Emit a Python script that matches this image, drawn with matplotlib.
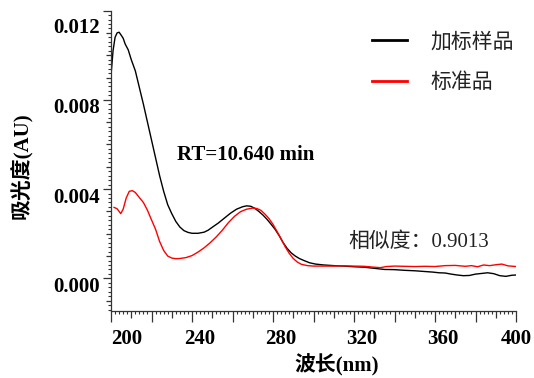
import matplotlib
matplotlib.use('Agg')
import matplotlib.pyplot as plt
import matplotlib.transforms as mtransforms
import numpy as np

# wavelength (nm) / absorbance (AU)
spiked_nm = [200, 201, 202, 203, 204, 205, 206, 207, 208.5, 210, 212, 214, 216, 218, 220,
             222, 224, 226, 228, 230, 232, 234, 236, 238, 240, 243, 246, 248, 250, 253,
             256, 259, 262, 265, 267, 269, 271, 273, 275, 277, 279, 281, 283, 285, 287,
             289, 291, 293, 295, 298, 301, 305, 310, 315, 320, 325, 330, 335, 340, 345,
             350, 353, 356, 359, 362, 365, 368, 371, 374, 377, 380, 383, 386, 389, 392,
             395, 398, 400]
spiked_au = [0.0091, 0.0102, 0.0108, 0.0110, 0.01103, 0.0109, 0.01076, 0.0105, 0.01024,
             0.0098, 0.0093, 0.00855, 0.0078, 0.0070, 0.0062, 0.0054, 0.0046, 0.0039,
             0.0033, 0.0029, 0.00255, 0.0023, 0.00214, 0.00206, 0.00202, 0.00202, 0.00207,
             0.00216, 0.00229, 0.00248, 0.00270, 0.00292, 0.00310, 0.00321, 0.00325,
             0.00323, 0.00314, 0.00300, 0.00284, 0.00265, 0.00243, 0.00220, 0.00192,
             0.00160, 0.00134, 0.00114, 0.00100, 0.00089, 0.00081, 0.00070, 0.00064,
             0.00060, 0.00057, 0.00055, 0.00052, 0.00050, 0.00045, 0.00040, 0.00039,
             0.00036, 0.00034, 0.00032, 0.00030, 0.00028, 0.00025, 0.00024, 0.00019,
             0.00015, 0.00012, 0.00013, 0.00019, 0.00022, 0.00025, 0.00021, 0.00012,
             0.00009, 0.00014, 0.00015]

standard_nm = [201.5, 203, 204.8, 206, 207.5, 209, 210.5, 212, 214, 216, 218, 220, 222,
               224, 226, 228, 230, 232, 234, 237, 240, 243, 246, 249, 252, 255, 258, 261,
               264, 267, 270, 272, 274, 276, 278, 280, 282, 284, 286, 288, 290, 292, 294,
               297, 300, 305, 310, 315, 320, 325, 330, 333, 336, 340, 345, 350, 355, 360,
               365, 370, 375, 378, 381, 384, 387, 390, 393, 396, 400]
standard_au = [0.00318, 0.00312, 0.00290, 0.00310, 0.00360, 0.00390, 0.00393, 0.00385,
               0.00362, 0.00340, 0.00305, 0.00262, 0.00220, 0.00165, 0.00125, 0.00100,
               0.00091, 0.00088, 0.00089, 0.00093, 0.00102, 0.00118, 0.00137, 0.00160,
               0.00186, 0.00216, 0.00250, 0.00278, 0.00299, 0.00310, 0.00315, 0.00313,
               0.00305, 0.00288, 0.00268, 0.00242, 0.00210, 0.00177, 0.00142, 0.00112,
               0.00089, 0.00073, 0.00063, 0.00057, 0.00055, 0.00055, 0.00055, 0.00056,
               0.00055, 0.00054, 0.00050, 0.00048, 0.00053, 0.00055, 0.00054, 0.00053,
               0.00054, 0.00053, 0.00057, 0.00058, 0.00054, 0.00057, 0.00052, 0.00060,
               0.00057, 0.00061, 0.00064, 0.00056, 0.00053]

series_labels = ['加标样品', '标准品']
rt_text = 'RT=10.640 min'
sim_text = '相似度：0.9013'

fam = ['Liberation Serif', 'Noto Sans CJK SC']
plt.rcParams['font.family'] = fam

fig = plt.figure(figsize=(5.34, 3.78), dpi=100)
ax = fig.add_axes([0.2079, 0.178, 0.7584, 0.794])

ax.plot(spiked_nm, spiked_au, color='black', lw=1.0, label=series_labels[0])
ax.plot(standard_nm, standard_au, color='#ff0000', lw=1.0, label=series_labels[1])

ax.set_xlim(200, 400)
ax.set_ylim(-0.00145, 0.012)

for s in ['top', 'right']:
    ax.spines[s].set_visible(False)
for s in ['left', 'bottom']:
    ax.spines[s].set_linewidth(0.9)
    ax.spines[s].set_color('#333333')

# x ticks: long every 20, medium every 10, small every 2, labels every 40
xmaj = np.arange(200, 401, 10)
ax.set_xticks(xmaj)
ax.set_xticklabels([str(v) if v % 40 == 0 else '' for v in xmaj])
ax.set_xticks(np.arange(200, 401, 2), minor=True)
ymaj = np.round(np.arange(-0.001, 0.01201, 0.001), 4)
ax.set_yticks(ymaj)
ax.set_yticklabels(['%.3f' % v if round(v * 1000) % 4 == 0 else '' for v in ymaj])
ax.set_yticks(np.arange(-0.0014, 0.01201, 0.0002), minor=True)

ax.tick_params(axis='x', which='major', direction='out', length=8, width=0.9, pad=5,
               labelsize=15, color='#333333')
ax.tick_params(axis='x', which='minor', direction='out', length=2.2, width=0.8, color='#333333')
ax.tick_params(axis='y', which='major', direction='out', length=5.8, width=0.9, pad=2,
               labelsize=15, color='#333333')
ax.tick_params(axis='y', which='minor', direction='out', length=2.0, width=0.8, color='#333333')

for t, v in zip(ax.xaxis.get_major_ticks(), xmaj):
    if v % 20 != 0:
        t.tick1line.set_markersize(4.8)
    # labels sit a little right of their ticks in the original
    dx = 16 if v == 200 else (0 if v == 400 else 8)
    t.label1.set_transform(t.label1.get_transform() +
                           mtransforms.ScaledTranslation(dx / 100, 0, fig.dpi_scale_trans))
for t, v in zip(ax.yaxis.get_major_ticks(), ymaj):
    if round(v * 1000) % 4 != 0:
        t.tick1line.set_markersize(3.6)
    dy = -15 if v >= 0.012 else -6
    t.label1.set_transform(t.label1.get_transform() +
                           mtransforms.ScaledTranslation(0, dy / 100, fig.dpi_scale_trans))

for lab in ax.get_xticklabels() + ax.get_yticklabels():
    lab.set_fontweight('bold')

ax.set_xlabel('波长(nm)', fontsize=15, fontweight='bold')
ax.xaxis.set_label_coords(0.557, -0.182)
ax.xaxis.label.set_va('center')
ax.set_ylabel('吸光度(AU)', fontsize=15, fontweight='bold')
ax.yaxis.set_label_coords(-0.22, 0.482)
ax.yaxis.label.set_va('center')

fig.text(0.4597, 0.59, rt_text, fontsize=15, fontweight='bold', ha='center', va='center')
fig.text(0.7846, 0.3598, sim_text, fontsize=15, color='#222222', ha='center', va='center')

leg = ax.legend(loc='upper left', bbox_to_anchor=(0.6966, 0.913),
                bbox_transform=fig.transFigure, frameon=False, fontsize=15,
                handlelength=1.68, handletextpad=1.15, labelspacing=1.0, borderpad=0,
                borderaxespad=0)
for txt in leg.get_texts():
    txt.set_color('#222222')
for ln in leg.get_lines():
    ln.set_linewidth(2.0)

fig.savefig('out.png', dpi=100)
